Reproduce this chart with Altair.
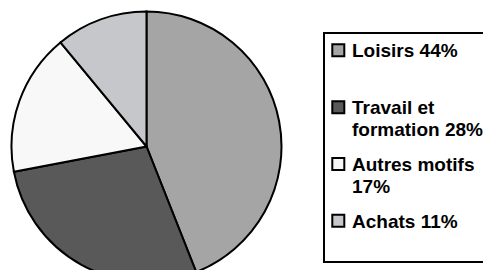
import altair as alt
import pandas as pd

categories = ["Loisirs", "Travail et formation", "Autres motifs", "Achats"]
values = [44, 28, 17, 11]
labels = ["Loisirs 44%", "Travail et\nformation 28%", "Autres motifs\n17%", "Achats 11%"]
colors = ["#a5a5a5", "#595959", "#f8f8f8", "#c6c7ca"]

df = pd.DataFrame({
    "category": categories,
    "value": values,
    "label": labels,
    "rank": list(range(len(categories))),
})

W, H = 475, 262
color_scale = alt.Scale(domain=categories, range=colors)
ypos = alt.Scale(domain=categories, range=[49, 219.5], padding=0)

base = alt.Chart(df)

pie = base.mark_arc(radius=135, stroke="black", strokeWidth=2).encode(
    theta=alt.Theta("value:Q", stack=True),
    order=alt.Order("rank:Q"),
    color=alt.Color("category:N", scale=color_scale, legend=None),
    x=alt.value(138.5),
    y=alt.value(138.5),
)

box = base.mark_rect(fill=None, stroke="black", strokeWidth=2).encode(
    x=alt.value(316), x2=alt.value(495), y=alt.value(25), y2=alt.value(254)
).transform_filter(alt.datum.rank == 0)

squares = base.mark_square(size=144, stroke="black", strokeWidth=2, opacity=1, yOffset=-6.7).encode(
    x=alt.value(330.3),
    y=alt.Y("category:N", scale=ypos, axis=None),
    fill=alt.Color("category:N", scale=color_scale, legend=None),
)

texts = base.mark_text(
    align="left", baseline="alphabetic", font="Liberation Sans", fontSize=19,
    fontWeight="bold", color="black", lineBreak="\n", lineHeight=22.5,
).encode(
    x=alt.value(344),
    y=alt.Y("category:N", scale=ypos, axis=None),
    text="label:N",
)

chart = alt.layer(pie, box, squares, texts).properties(
    width=W, height=H, padding=0, autosize=alt.AutoSizeParams(type="none")
).configure_view(stroke=None)

chart.save("out.html", embed_options={"renderer": "svg", "actions": False})
